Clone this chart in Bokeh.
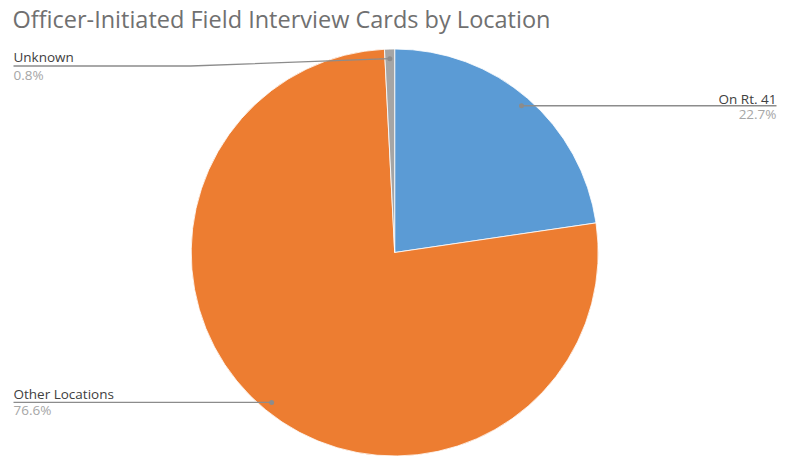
import math
from bokeh.plotting import figure
from bokeh.models import ColumnDataSource, Range1d
from bokeh.core.properties import value
from bokeh.embed import file_html
from bokeh.resources import INLINE

# ---- data ----
categories = ["On Rt. 41", "Other Locations", "Unknown"]
shares = [22.7, 76.6, 0.8]
pct_labels = ["22.7%", "76.6%", "0.8%"]
colors = ["#5B9BD5", "#ED7D31", "#A5A5A5"]
title_text = "Officer-Initiated Field Interview Cards by Location"

W, H = 791, 457
FONT = "Open Sans"

def px(x):  # picture x -> data x
    return x

def py(y):  # picture y -> data y
    return H - y

p = figure(width=W, height=H, output_backend="svg", toolbar_location=None,
           x_range=Range1d(0, W), y_range=Range1d(0, H),
           min_border=0, outline_line_color=None)
p.xaxis.visible = False
p.yaxis.visible = False
p.xgrid.visible = False
p.ygrid.visible = False
p.background_fill_color = "white"
p.border_fill_color = "white"

cx, cy, R = px(394.2), py(252), 203.5

total = sum(shares)
starts, ends, mids = [], [], []
cum = 0.0
for s in shares:
    a0 = math.pi / 2 - 2 * math.pi * cum / total
    cum += s
    a1 = math.pi / 2 - 2 * math.pi * cum / total
    starts.append(a0)
    ends.append(a1)
    mids.append((a0 + a1) / 2)

src = ColumnDataSource(dict(x=[cx] * 3, y=[cy] * 3, start=starts, end=ends,
                            color=colors, cat=categories))
p.wedge(x="x", y="y", radius=R, radius_units="screen", start_angle="start",
        end_angle="end", direction="clock", fill_color="color",
        line_color="white", line_width=0.8, source=src)

# anchor points on slices
ax = [cx + 0.953 * R * math.cos(m) for m in mids]
ay = [cy + 0.953 * R * math.sin(m) for m in mids]

lc = "#8c8c8c"
p.line([ax[0], px(776)], [ay[0], ay[0]], line_color=lc, line_width=1.3)
p.line([ax[1], px(13)], [ay[1], ay[1]], line_color=lc, line_width=1.3)
p.line([ax[2], px(190), px(13)], [ay[2], py(65.5), py(65.5)], line_color=lc, line_width=1.3)
p.scatter(ax, ay, size=5, color=lc, line_color=None)

name_col = "#404040"
pct_col = "#a6a6a6"
fs = "13.5px"

def label(x, y, t, align, color):
    p.text([px(x)], [py(y)], text=[t], text_align=align, text_baseline="middle",
           text_font=value(FONT), text_font_size=fs, text_color=color)

label(776, 98.5, categories[0], "right", name_col)
label(776, 113.5, pct_labels[0], "right", pct_col)
label(13, 393.5, categories[1], "left", name_col)
label(13, 409, pct_labels[1], "left", pct_col)
label(13, 56.5, categories[2], "left", name_col)
label(13, 74, pct_labels[2], "left", pct_col)

p.text([px(12)], [py(18)], text=[title_text], text_align="left",
       text_baseline="middle", text_font=value(FONT), text_font_size="23.5px",
       text_color="#707070")

open("out.html", "w").write(file_html(p, INLINE))
